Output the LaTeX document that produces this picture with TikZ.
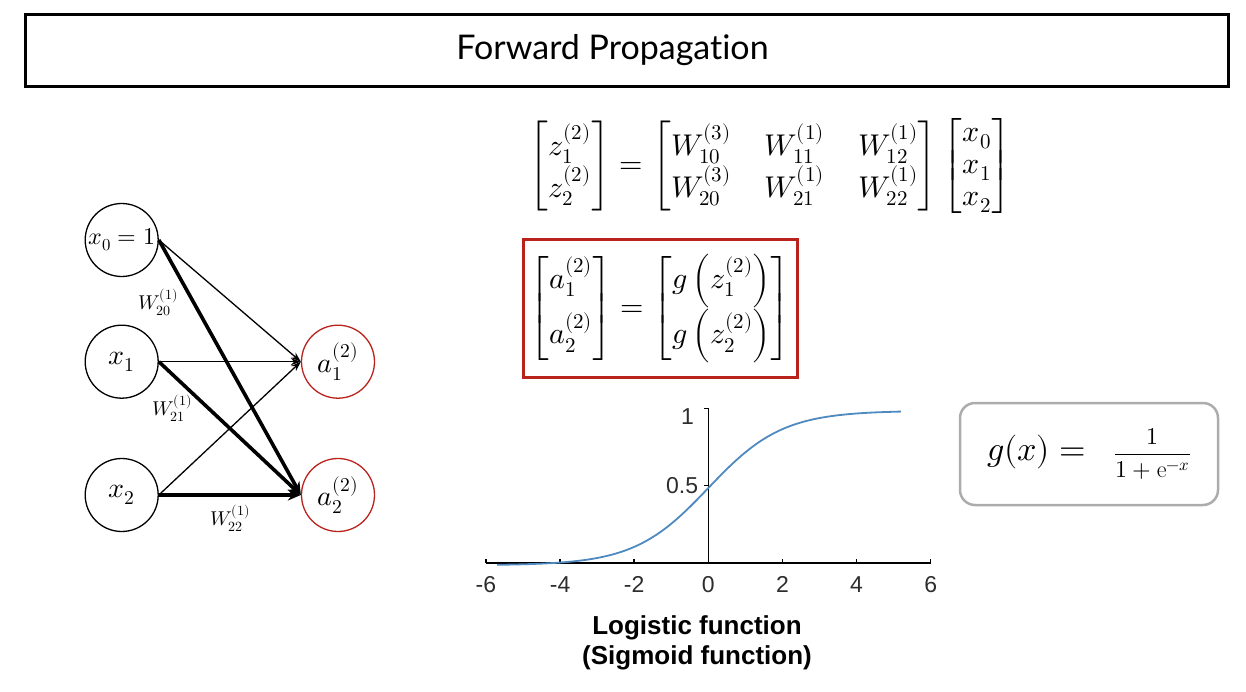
\documentclass[tikz,border=0pt]{standalone}
\usepackage{amsmath}
\usepackage{fontspec}
\usepackage{unicode-math}
\setmathfont{Latin Modern Math}
\usetikzlibrary{arrows.meta}
\newfontfamily\titlefont[Ligatures=NoCommon]{Lato}
\newfontfamily\plotfont{Liberation Sans}
\definecolor{myred}{RGB}{185,35,28}
\definecolor{curveblue}{RGB}{78,138,192}
\definecolor{boxgray}{RGB}{172,172,172}
\definecolor{tickgray}{RGB}{45,45,45}
\tikzset{
  neuron/.style={circle, draw, line width=1.3pt, minimum size=73pt, inner sep=0pt, font=\fontsize{28}{32}\selectfont},
  outneuron/.style={neuron, draw=myred},
  thinedge/.style={line width=1.3pt, -{Stealth[length=10pt,width=7pt]}},
  thickedge/.style={line width=3.6pt, -{Stealth[length=13pt,width=11pt]}},
  wlabel/.style={font=\fontsize{20}{22}\selectfont, inner sep=0pt},
  ticklabel/.style={font=\plotfont\fontsize{23}{26}\selectfont, text=tickgray, inner sep=0pt},
  eqfont/.style={font=\fontsize{30}{36}\selectfont}
}
\begin{document}
\begin{tikzpicture}[x=1pt,y=-1pt]
\useasboundingbox (0,0) rectangle (1246,692);
% title
\node[draw, line width=3pt, minimum width=1203pt, minimum height=72pt] (title) at (626.5,51) {};
\node[font=\titlefont\fontsize{34}{40}\selectfont] (titletext) at (612.5,50) {Forward Propagation};
% network
\node[neuron, font=\fontsize{24}{28}\selectfont] (x0) at (121.7,240) {$x_0=1$};
\node[neuron] (x1) at (121.7,361.7) {$x_1$};
\node[neuron] (x2) at (121.7,495) {$x_2$};
\node[outneuron] (a1) at (338,361.7) {$a_1^{(2)}$};
\node[outneuron] (a2) at (338,495) {$a_2^{(2)}$};
\draw[thinedge] (x0.east) -- (a1.west);
\draw[thickedge] (x0.east) -- (a2.west);
\draw[thinedge] (x1.east) -- (a1.west);
\draw[thickedge] (x1.east) -- (a2.west);
\draw[thinedge] (x2.east) -- (a1.west);
\draw[thickedge] (x2.east) -- (a2.west);
\node[wlabel] (w20) at (158,302) {$W_{20}^{(1)}$};
\node[wlabel] (w21) at (172,408) {$W_{21}^{(1)}$};
\node[wlabel] (w22) at (230,518) {$W_{22}^{(1)}$};
% equations
\node[eqfont] (eq1) at (770,166) {$\begin{bmatrix} z_1^{(2)}\\ z_2^{(2)}\end{bmatrix} = \setlength{\arraycolsep}{17pt}\begin{bmatrix} W_{10}^{(3)} & W_{11}^{(1)} & W_{12}^{(1)} \\ W_{20}^{(3)} & W_{21}^{(1)} & W_{22}^{(1)} \end{bmatrix}\begin{bmatrix}x_0\\[-4pt]x_1\\[-4pt]x_2\end{bmatrix}$};
\node[eqfont, draw=myred, line width=3pt, minimum width=274pt, minimum height=137pt] (eq2) at (660,308.5) {$\begin{bmatrix} a_1^{(2)}\vphantom{\Bigl(z_1^{(2)}\Bigr)}\\[10pt] a_2^{(2)}\vphantom{\Bigl(z_2^{(2)}\Bigr)}\end{bmatrix} = \begin{bmatrix} g\,\Bigl(z_1^{(2)}\Bigr)\\[10pt] g\,\Bigl(z_2^{(2)}\Bigr)\end{bmatrix}$};
% g(x) box
\node[draw=boxgray, rounded corners=15pt, line width=2.5pt, minimum width=258pt, minimum height=102pt, font=\fontsize{34}{40}\selectfont] (gbox) at (1089,454) {$g(x) =\;\; \hbox{\fontsize{24}{28}\selectfont$\dfrac{1}{1+\mathrm{e}^{-x}}$}$};
% plot
\begin{scope}[shift={(708.3,563)}, x=37.06pt, y=154.6pt]
  \draw[line width=1.4pt] (-6,0) -- (6,0);
  \foreach \t in {-6,-4,...,6}{
    \draw[line width=1.4pt] (\t,0) -- (\t,0.028);
    \node[ticklabel, anchor=north] (t\t) at (\t,-0.085) {\t};
  }
  \draw[line width=1.4pt] (0,0) -- (0,1.0);
  \draw[line width=1.4pt] (0,1.0) -- (-0.11,1.0);
  \draw[line width=1.4pt] (0,0.5) -- (-0.11,0.5);
  \node[ticklabel, anchor=east] (y1) at (-0.38,0.948) {1};
  \node[ticklabel, anchor=east] (y05) at (-0.27,0.5) {0.5};
  \draw[curveblue, line width=1.8pt] plot[domain=-5.7:5.2, samples=120, smooth] (\x, {1/(1+exp(-\x)) - 0.015});
\end{scope}
\node[font=\plotfont\bfseries\fontsize{26}{30}\selectfont] (pt1) at (697,628) {Logistic function};
\node[font=\plotfont\bfseries\fontsize{26}{30}\selectfont] (pt2) at (697,658) {(Sigmoid function)};
\end{tikzpicture}
\end{document}
